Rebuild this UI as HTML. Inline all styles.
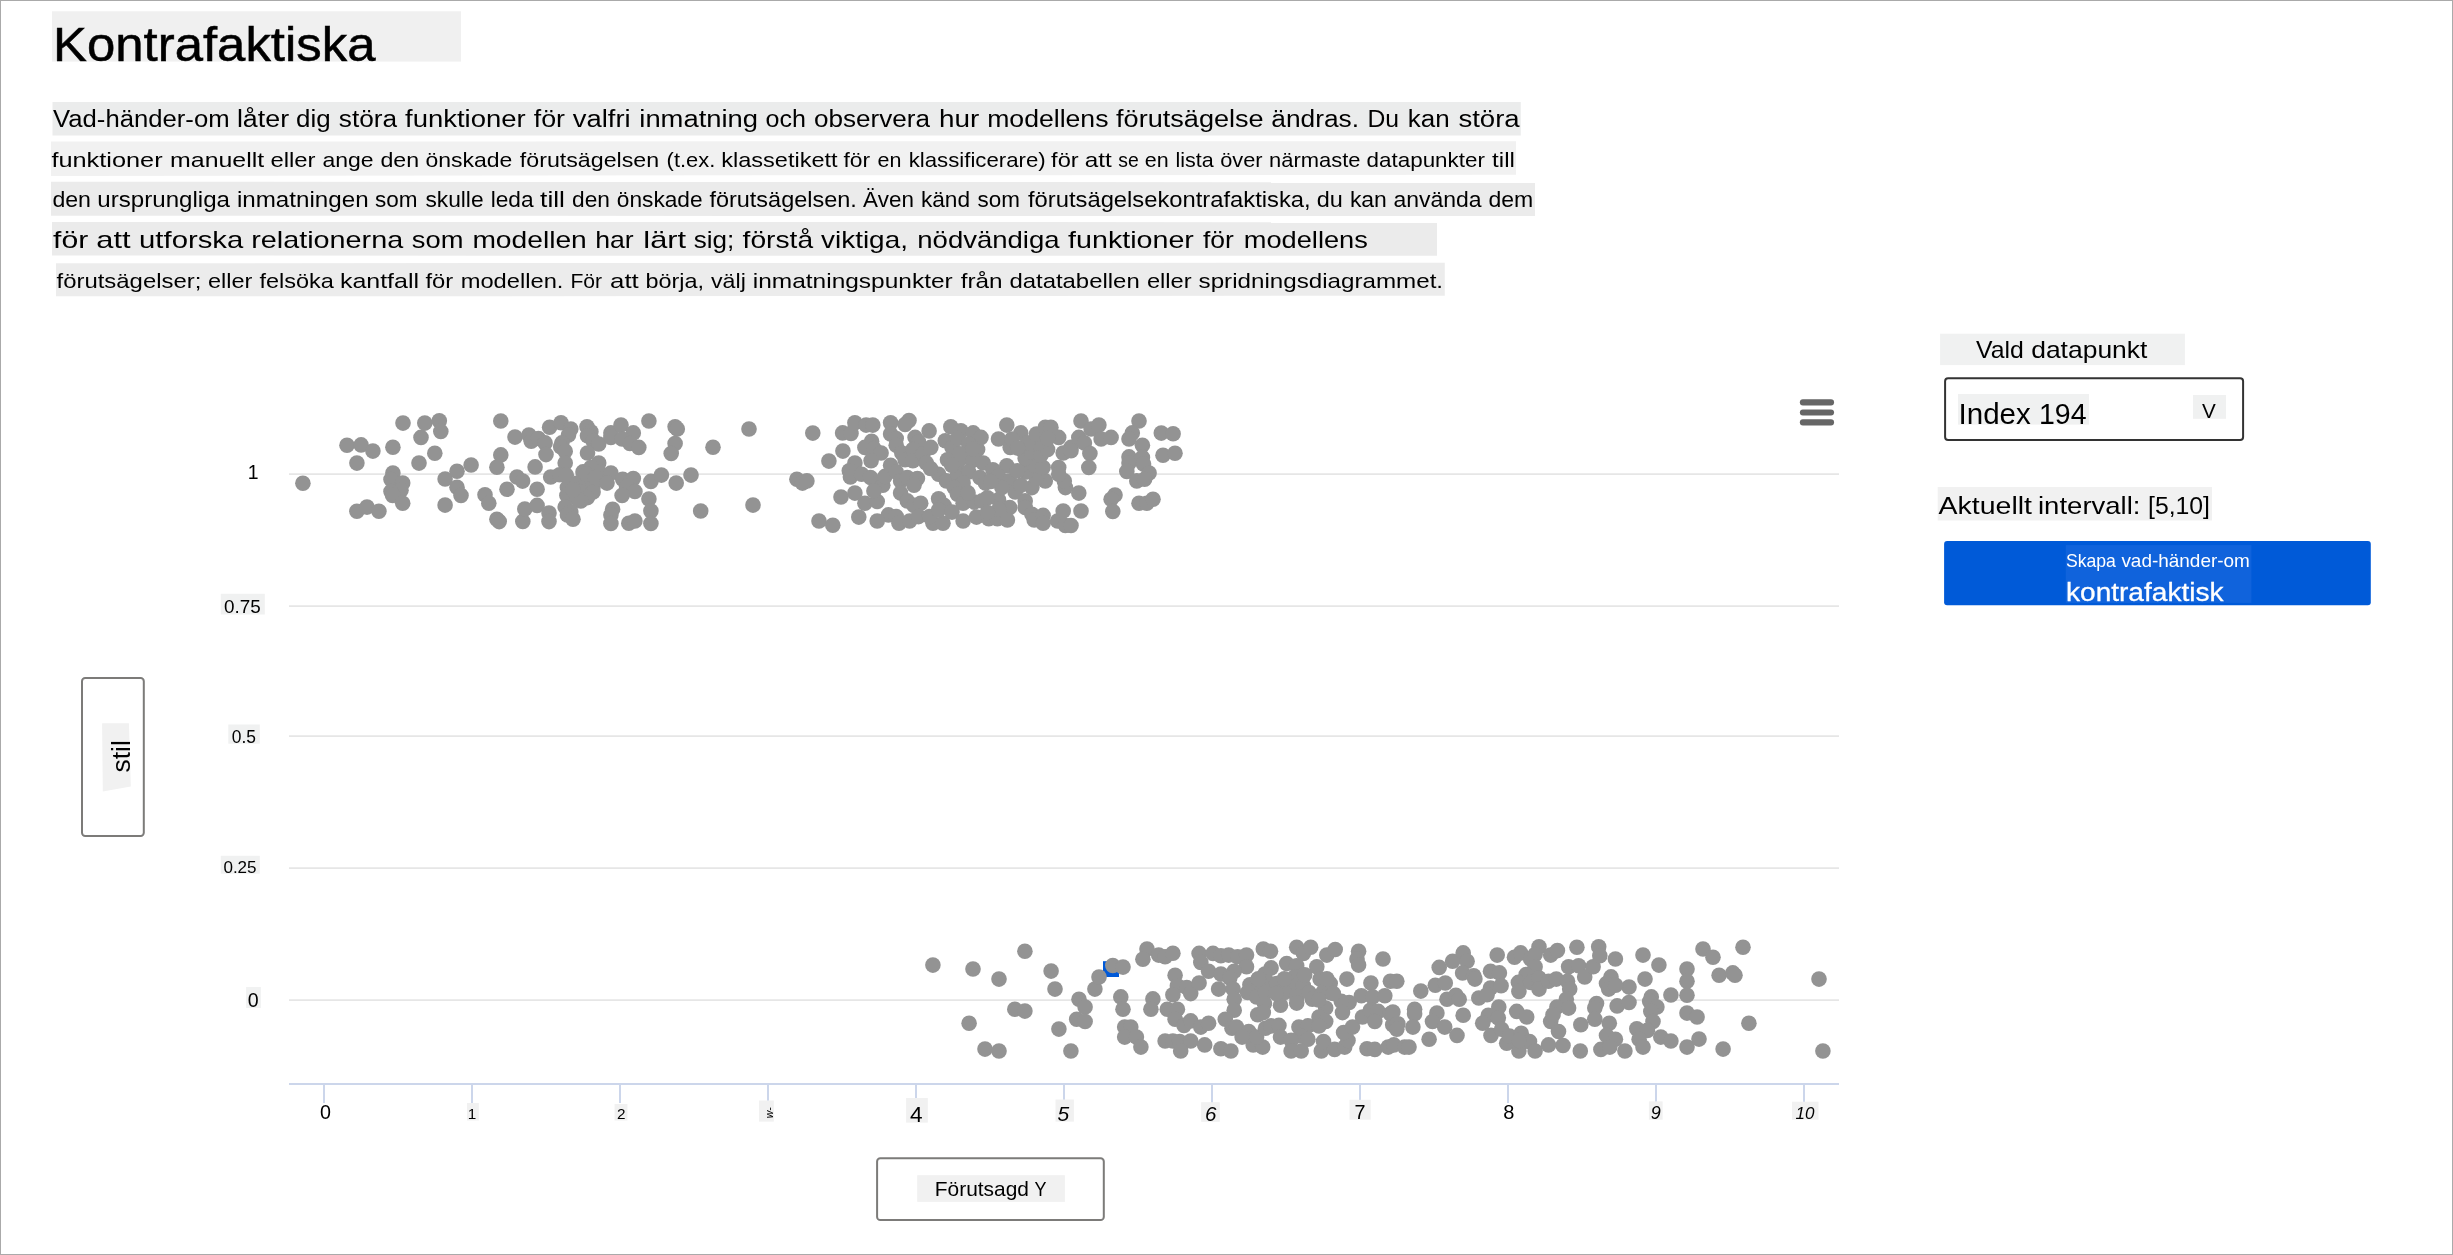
<!DOCTYPE html>
<html><head><meta charset="utf-8"><title>Kontrafaktiska</title>
<style>
html,body{margin:0;padding:0;background:#fff;}
body{width:2453px;height:1255px;overflow:hidden;position:relative;font-family:"Liberation Sans",sans-serif;}
svg{position:absolute;left:0;top:0;display:block;will-change:transform;}
svg text{font-family:"Liberation Sans",sans-serif;}
#frame{position:absolute;left:0;top:0;width:2451px;height:1253px;border:1px solid #aaa;pointer-events:none;}
</style></head><body>
<svg width="2453" height="1255" viewBox="0 0 2453 1255">
<rect x="52.00" y="11.30" width="409.00" height="50.30" fill="#f0f0f0" />
<text x="53.00" y="60.60" font-size="47.20" textLength="322.5" lengthAdjust="spacingAndGlyphs" fill="#000" stroke="#000" stroke-width="0.5">Kontrafaktiska</text>
<polygon points="52.5,102.1 1520.8,102.0 1520.8,135.6 52.5,135.4" fill="#ebecec"/>
<text x="53.10" y="127.40" font-size="23.00" textLength="176.5" lengthAdjust="spacingAndGlyphs" fill="#000" >Vad-händer-om</text>
<text x="236.90" y="127.40" font-size="23.00" textLength="52.2" lengthAdjust="spacingAndGlyphs" fill="#000" >låter</text>
<text x="296.00" y="127.40" font-size="23.00" textLength="34.6" lengthAdjust="spacingAndGlyphs" fill="#000" >dig</text>
<text x="338.80" y="127.40" font-size="23.00" textLength="58.3" lengthAdjust="spacingAndGlyphs" fill="#000" >störa</text>
<text x="405.10" y="127.40" font-size="23.00" textLength="120.5" lengthAdjust="spacingAndGlyphs" fill="#000" >funktioner</text>
<text x="533.70" y="127.40" font-size="23.00" textLength="31.3" lengthAdjust="spacingAndGlyphs" fill="#000" >för</text>
<text x="572.80" y="127.40" font-size="23.00" textLength="57.8" lengthAdjust="spacingAndGlyphs" fill="#000" >valfri</text>
<text x="639.30" y="127.40" font-size="23.00" textLength="118.8" lengthAdjust="spacingAndGlyphs" fill="#000" >inmatning</text>
<text x="765.60" y="127.40" font-size="23.00" textLength="40.4" lengthAdjust="spacingAndGlyphs" fill="#000" >och</text>
<text x="813.90" y="127.40" font-size="23.00" textLength="116.0" lengthAdjust="spacingAndGlyphs" fill="#000" >observera</text>
<text x="938.90" y="127.40" font-size="23.00" textLength="40.3" lengthAdjust="spacingAndGlyphs" fill="#000" >hur</text>
<text x="987.20" y="127.40" font-size="23.00" textLength="121.3" lengthAdjust="spacingAndGlyphs" fill="#000" >modellens</text>
<text x="1116.10" y="127.40" font-size="23.00" textLength="147.6" lengthAdjust="spacingAndGlyphs" fill="#000" >förutsägelse</text>
<text x="1271.30" y="127.40" font-size="23.00" textLength="87.7" lengthAdjust="spacingAndGlyphs" fill="#000" >ändras.</text>
<text x="1367.50" y="127.40" font-size="23.00" textLength="31.6" lengthAdjust="spacingAndGlyphs" fill="#000" >Du</text>
<text x="1407.80" y="127.40" font-size="23.00" textLength="41.9" lengthAdjust="spacingAndGlyphs" fill="#000" >kan</text>
<text x="1458.40" y="127.40" font-size="23.00" textLength="61.3" lengthAdjust="spacingAndGlyphs" fill="#000" >störa</text>
<polygon points="51,141.5 1516,141.2 1516,174.7 51,176.0" fill="#f1f1f1"/>
<text x="51.40" y="166.50" font-size="20.60" textLength="111.2" lengthAdjust="spacingAndGlyphs" fill="#000" >funktioner</text>
<text x="170.10" y="166.50" font-size="20.60" textLength="94.1" lengthAdjust="spacingAndGlyphs" fill="#000" >manuellt</text>
<text x="270.40" y="166.50" font-size="20.60" textLength="45.2" lengthAdjust="spacingAndGlyphs" fill="#000" >eller</text>
<text x="322.40" y="166.50" font-size="20.60" textLength="51.2" lengthAdjust="spacingAndGlyphs" fill="#000" >ange</text>
<text x="380.40" y="166.50" font-size="20.60" textLength="38.7" lengthAdjust="spacingAndGlyphs" fill="#000" >den</text>
<text x="425.40" y="166.50" font-size="20.60" textLength="86.9" lengthAdjust="spacingAndGlyphs" fill="#000" >önskade</text>
<text x="519.80" y="166.50" font-size="20.60" textLength="139.4" lengthAdjust="spacingAndGlyphs" fill="#000" >förutsägelsen</text>
<text x="666.60" y="166.50" font-size="20.60" textLength="48.7" lengthAdjust="spacingAndGlyphs" fill="#000" >(t.ex.</text>
<text x="721.20" y="166.50" font-size="20.60" textLength="116.4" lengthAdjust="spacingAndGlyphs" fill="#000" >klassetikett</text>
<text x="843.50" y="166.50" font-size="20.60" textLength="26.7" lengthAdjust="spacingAndGlyphs" fill="#000" >för</text>
<text x="877.50" y="166.50" font-size="20.60" textLength="23.9" lengthAdjust="spacingAndGlyphs" fill="#000" >en</text>
<text x="908.70" y="166.50" font-size="20.60" textLength="137.0" lengthAdjust="spacingAndGlyphs" fill="#000" >klassificerare)</text>
<text x="1051.10" y="166.50" font-size="20.60" textLength="27.6" lengthAdjust="spacingAndGlyphs" fill="#000" >för</text>
<text x="1084.80" y="166.50" font-size="20.60" textLength="27.0" lengthAdjust="spacingAndGlyphs" fill="#000" >att</text>
<text x="1118.30" y="166.50" font-size="20.60" textLength="20.5" lengthAdjust="spacingAndGlyphs" fill="#000" >se</text>
<text x="1144.70" y="166.50" font-size="20.60" textLength="23.9" lengthAdjust="spacingAndGlyphs" fill="#000" >en</text>
<text x="1175.50" y="166.50" font-size="20.60" textLength="38.2" lengthAdjust="spacingAndGlyphs" fill="#000" >lista</text>
<text x="1220.20" y="166.50" font-size="20.60" textLength="42.4" lengthAdjust="spacingAndGlyphs" fill="#000" >över</text>
<text x="1269.10" y="166.50" font-size="20.60" textLength="91.4" lengthAdjust="spacingAndGlyphs" fill="#000" >närmaste</text>
<text x="1366.60" y="166.50" font-size="20.60" textLength="118.3" lengthAdjust="spacingAndGlyphs" fill="#000" >datapunkter</text>
<text x="1492.10" y="166.50" font-size="20.60" textLength="22.8" lengthAdjust="spacingAndGlyphs" fill="#000" >till</text>
<polygon points="51,181.7 1535,182.3 1535,216.1 51,215.7" fill="#ebebeb"/>
<text x="52.40" y="206.70" font-size="21.60" textLength="38.6" lengthAdjust="spacingAndGlyphs" fill="#000" >den</text>
<text x="97.30" y="206.70" font-size="21.60" textLength="132.7" lengthAdjust="spacingAndGlyphs" fill="#000" >ursprungliga</text>
<text x="236.90" y="206.70" font-size="21.60" textLength="131.7" lengthAdjust="spacingAndGlyphs" fill="#000" >inmatningen</text>
<text x="375.10" y="206.70" font-size="21.60" textLength="42.5" lengthAdjust="spacingAndGlyphs" fill="#000" >som</text>
<text x="425.40" y="206.70" font-size="21.60" textLength="58.2" lengthAdjust="spacingAndGlyphs" fill="#000" >skulle</text>
<text x="490.70" y="206.70" font-size="21.60" textLength="42.9" lengthAdjust="spacingAndGlyphs" fill="#000" >leda</text>
<text x="540.10" y="206.70" font-size="21.60" textLength="24.9" lengthAdjust="spacingAndGlyphs" fill="#000" >till</text>
<text x="572.00" y="206.70" font-size="21.60" textLength="37.9" lengthAdjust="spacingAndGlyphs" fill="#000" >den</text>
<text x="616.80" y="206.70" font-size="21.60" textLength="85.8" lengthAdjust="spacingAndGlyphs" fill="#000" >önskade</text>
<text x="709.40" y="206.70" font-size="21.60" textLength="147.5" lengthAdjust="spacingAndGlyphs" fill="#000" >förutsägelsen.</text>
<text x="862.90" y="206.70" font-size="21.60" textLength="51.1" lengthAdjust="spacingAndGlyphs" fill="#000" >Även</text>
<text x="920.90" y="206.70" font-size="21.60" textLength="49.2" lengthAdjust="spacingAndGlyphs" fill="#000" >känd</text>
<text x="977.60" y="206.70" font-size="21.60" textLength="42.4" lengthAdjust="spacingAndGlyphs" fill="#000" >som</text>
<text x="1028.00" y="206.70" font-size="21.60" textLength="282.6" lengthAdjust="spacingAndGlyphs" fill="#000" >förutsägelsekontrafaktiska,</text>
<text x="1316.80" y="206.70" font-size="21.60" textLength="26.1" lengthAdjust="spacingAndGlyphs" fill="#000" >du</text>
<text x="1349.90" y="206.70" font-size="21.60" textLength="37.0" lengthAdjust="spacingAndGlyphs" fill="#000" >kan</text>
<text x="1393.40" y="206.70" font-size="21.60" textLength="88.2" lengthAdjust="spacingAndGlyphs" fill="#000" >använda</text>
<text x="1488.50" y="206.70" font-size="21.60" textLength="44.8" lengthAdjust="spacingAndGlyphs" fill="#000" >dem</text>
<polygon points="52,221.9 1437,222.2 1437,255.7 52,255.6" fill="#ebebeb"/>
<text x="53.10" y="247.80" font-size="24.00" textLength="35.2" lengthAdjust="spacingAndGlyphs" fill="#000" >för</text>
<text x="96.30" y="247.80" font-size="24.00" textLength="34.3" lengthAdjust="spacingAndGlyphs" fill="#000" >att</text>
<text x="139.10" y="247.80" font-size="24.00" textLength="104.1" lengthAdjust="spacingAndGlyphs" fill="#000" >utforska</text>
<text x="251.20" y="247.80" font-size="24.00" textLength="152.0" lengthAdjust="spacingAndGlyphs" fill="#000" >relationerna</text>
<text x="411.80" y="247.80" font-size="24.00" textLength="51.6" lengthAdjust="spacingAndGlyphs" fill="#000" >som</text>
<text x="472.40" y="247.80" font-size="24.00" textLength="114.4" lengthAdjust="spacingAndGlyphs" fill="#000" >modellen</text>
<text x="595.20" y="247.80" font-size="24.00" textLength="38.5" lengthAdjust="spacingAndGlyphs" fill="#000" >har</text>
<text x="643.30" y="247.80" font-size="24.00" textLength="42.8" lengthAdjust="spacingAndGlyphs" fill="#000" >lärt</text>
<text x="693.70" y="247.80" font-size="24.00" textLength="40.5" lengthAdjust="spacingAndGlyphs" fill="#000" >sig;</text>
<text x="742.60" y="247.80" font-size="24.00" textLength="70.5" lengthAdjust="spacingAndGlyphs" fill="#000" >förstå</text>
<text x="821.10" y="247.80" font-size="24.00" textLength="86.8" lengthAdjust="spacingAndGlyphs" fill="#000" >viktiga,</text>
<text x="917.30" y="247.80" font-size="24.00" textLength="142.3" lengthAdjust="spacingAndGlyphs" fill="#000" >nödvändiga</text>
<text x="1068.10" y="247.80" font-size="24.00" textLength="125.8" lengthAdjust="spacingAndGlyphs" fill="#000" >funktioner</text>
<text x="1203.00" y="247.80" font-size="24.00" textLength="30.9" lengthAdjust="spacingAndGlyphs" fill="#000" >för</text>
<text x="1243.80" y="247.80" font-size="24.00" textLength="124.0" lengthAdjust="spacingAndGlyphs" fill="#000" >modellens</text>
<polygon points="56,263.2 1444.8,262.8 1444.8,295.8 56,296.3" fill="#ececec"/>
<text x="56.50" y="287.50" font-size="20.60" textLength="144.9" lengthAdjust="spacingAndGlyphs" fill="#000" >förutsägelser;</text>
<text x="208.00" y="287.50" font-size="20.60" textLength="44.4" lengthAdjust="spacingAndGlyphs" fill="#000" >eller</text>
<text x="259.40" y="287.50" font-size="20.60" textLength="74.5" lengthAdjust="spacingAndGlyphs" fill="#000" >felsöka</text>
<text x="339.90" y="287.50" font-size="20.60" textLength="79.2" lengthAdjust="spacingAndGlyphs" fill="#000" >kantfall</text>
<text x="425.40" y="287.50" font-size="20.60" textLength="27.8" lengthAdjust="spacingAndGlyphs" fill="#000" >för</text>
<text x="460.70" y="287.50" font-size="20.60" textLength="102.7" lengthAdjust="spacingAndGlyphs" fill="#000" >modellen.</text>
<text x="570.40" y="287.50" font-size="20.60" textLength="31.7" lengthAdjust="spacingAndGlyphs" fill="#000" >För</text>
<text x="610.10" y="287.50" font-size="20.60" textLength="28.7" lengthAdjust="spacingAndGlyphs" fill="#000" >att</text>
<text x="645.40" y="287.50" font-size="20.60" textLength="58.6" lengthAdjust="spacingAndGlyphs" fill="#000" >börja,</text>
<text x="711.00" y="287.50" font-size="20.60" textLength="34.8" lengthAdjust="spacingAndGlyphs" fill="#000" >välj</text>
<text x="752.80" y="287.50" font-size="20.60" textLength="199.9" lengthAdjust="spacingAndGlyphs" fill="#000" >inmatningspunkter</text>
<text x="960.70" y="287.50" font-size="20.60" textLength="41.9" lengthAdjust="spacingAndGlyphs" fill="#000" >från</text>
<text x="1009.40" y="287.50" font-size="20.60" textLength="130.3" lengthAdjust="spacingAndGlyphs" fill="#000" >datatabellen</text>
<text x="1146.90" y="287.50" font-size="20.60" textLength="44.8" lengthAdjust="spacingAndGlyphs" fill="#000" >eller</text>
<text x="1198.60" y="287.50" font-size="20.60" textLength="244.5" lengthAdjust="spacingAndGlyphs" fill="#000" >spridningsdiagrammet.</text>
<line x1="289" y1="474.2" x2="1839" y2="474.2" stroke="#e6e6e6" stroke-width="1.8"/>
<line x1="289" y1="606.2" x2="1839" y2="606.2" stroke="#e6e6e6" stroke-width="1.8"/>
<line x1="289" y1="736.2" x2="1839" y2="736.2" stroke="#e6e6e6" stroke-width="1.8"/>
<line x1="289" y1="868.2" x2="1839" y2="868.2" stroke="#e6e6e6" stroke-width="1.8"/>
<line x1="289" y1="1000.2" x2="1839" y2="1000.2" stroke="#e6e6e6" stroke-width="1.8"/>
<line x1="289" y1="1084.1" x2="1839" y2="1084.1" stroke="#ccd6eb" stroke-width="2"/>
<line x1="324" y1="1084.1" x2="324" y2="1103.1" stroke="#ccd6eb" stroke-width="2"/>
<line x1="472" y1="1084.1" x2="472" y2="1103.1" stroke="#ccd6eb" stroke-width="2"/>
<line x1="620" y1="1084.1" x2="620" y2="1103.1" stroke="#ccd6eb" stroke-width="2"/>
<line x1="768" y1="1084.1" x2="768" y2="1103.1" stroke="#ccd6eb" stroke-width="2"/>
<line x1="916" y1="1084.1" x2="916" y2="1103.1" stroke="#ccd6eb" stroke-width="2"/>
<line x1="1064" y1="1084.1" x2="1064" y2="1103.1" stroke="#ccd6eb" stroke-width="2"/>
<line x1="1212" y1="1084.1" x2="1212" y2="1103.1" stroke="#ccd6eb" stroke-width="2"/>
<line x1="1360" y1="1084.1" x2="1360" y2="1103.1" stroke="#ccd6eb" stroke-width="2"/>
<line x1="1508" y1="1084.1" x2="1508" y2="1103.1" stroke="#ccd6eb" stroke-width="2"/>
<line x1="1656" y1="1084.1" x2="1656" y2="1103.1" stroke="#ccd6eb" stroke-width="2"/>
<line x1="1804" y1="1084.1" x2="1804" y2="1103.1" stroke="#ccd6eb" stroke-width="2"/>
<rect x="1103.00" y="961.20" width="16.00" height="15.80" fill="#0059d8" />
<g fill="#939393">
<circle cx="302.9" cy="483.3" r="7.8"/>
<circle cx="347.0" cy="445.2" r="7.8"/>
<circle cx="361.1" cy="444.9" r="7.8"/>
<circle cx="372.9" cy="451.1" r="7.8"/>
<circle cx="356.9" cy="463.1" r="7.8"/>
<circle cx="392.9" cy="447.2" r="7.8"/>
<circle cx="403.0" cy="423.1" r="7.8"/>
<circle cx="424.8" cy="423.1" r="7.8"/>
<circle cx="439.3" cy="420.8" r="7.8"/>
<circle cx="440.8" cy="431.4" r="7.8"/>
<circle cx="421.0" cy="437.4" r="7.8"/>
<circle cx="434.8" cy="453.2" r="7.8"/>
<circle cx="419.0" cy="463.1" r="7.8"/>
<circle cx="392.9" cy="473.0" r="7.8"/>
<circle cx="391.0" cy="479.5" r="7.8"/>
<circle cx="402.7" cy="483.1" r="7.8"/>
<circle cx="401.0" cy="490.3" r="7.8"/>
<circle cx="391.0" cy="491.5" r="7.8"/>
<circle cx="392.6" cy="495.4" r="7.8"/>
<circle cx="402.7" cy="503.2" r="7.8"/>
<circle cx="356.9" cy="511.2" r="7.8"/>
<circle cx="367.0" cy="507.1" r="7.8"/>
<circle cx="378.9" cy="511.2" r="7.8"/>
<circle cx="445.1" cy="479.0" r="7.8"/>
<circle cx="457.0" cy="471.2" r="7.8"/>
<circle cx="471.1" cy="465.0" r="7.8"/>
<circle cx="457.0" cy="487.3" r="7.8"/>
<circle cx="461.0" cy="495.4" r="7.8"/>
<circle cx="445.1" cy="505.1" r="7.8"/>
<circle cx="500.8" cy="421.0" r="7.8"/>
<circle cx="515.0" cy="437.1" r="7.8"/>
<circle cx="500.8" cy="454.9" r="7.8"/>
<circle cx="496.9" cy="467.2" r="7.8"/>
<circle cx="517.0" cy="477.0" r="7.8"/>
<circle cx="522.6" cy="481.1" r="7.8"/>
<circle cx="507.0" cy="489.2" r="7.8"/>
<circle cx="485.0" cy="494.8" r="7.8"/>
<circle cx="488.8" cy="503.2" r="7.8"/>
<circle cx="496.9" cy="519.3" r="7.8"/>
<circle cx="499.2" cy="521.6" r="7.8"/>
<circle cx="522.8" cy="521.4" r="7.8"/>
<circle cx="524.8" cy="509.0" r="7.8"/>
<circle cx="528.9" cy="435.1" r="7.8"/>
<circle cx="531.2" cy="441.3" r="7.8"/>
<circle cx="538.4" cy="438.5" r="7.8"/>
<circle cx="545.1" cy="442.9" r="7.8"/>
<circle cx="546.0" cy="454.6" r="7.8"/>
<circle cx="535.1" cy="466.9" r="7.8"/>
<circle cx="549.6" cy="427.3" r="7.8"/>
<circle cx="561.0" cy="422.8" r="7.8"/>
<circle cx="570.8" cy="429.0" r="7.8"/>
<circle cx="568.5" cy="435.1" r="7.8"/>
<circle cx="561.9" cy="442.9" r="7.8"/>
<circle cx="560.7" cy="446.8" r="7.8"/>
<circle cx="565.2" cy="451.3" r="7.8"/>
<circle cx="565.2" cy="463.0" r="7.8"/>
<circle cx="587.0" cy="426.8" r="7.8"/>
<circle cx="590.9" cy="431.8" r="7.8"/>
<circle cx="587.5" cy="435.7" r="7.8"/>
<circle cx="593.1" cy="440.7" r="7.8"/>
<circle cx="598.7" cy="444.0" r="7.8"/>
<circle cx="587.5" cy="453.0" r="7.8"/>
<circle cx="598.7" cy="463.0" r="7.8"/>
<circle cx="610.9" cy="432.9" r="7.8"/>
<circle cx="610.9" cy="437.4" r="7.8"/>
<circle cx="621.0" cy="425.1" r="7.8"/>
<circle cx="633.3" cy="432.9" r="7.8"/>
<circle cx="622.1" cy="439.0" r="7.8"/>
<circle cx="629.9" cy="443.5" r="7.8"/>
<circle cx="638.8" cy="447.4" r="7.8"/>
<circle cx="648.9" cy="421.0" r="7.8"/>
<circle cx="675.1" cy="426.8" r="7.8"/>
<circle cx="677.3" cy="429.0" r="7.8"/>
<circle cx="675.1" cy="443.5" r="7.8"/>
<circle cx="671.2" cy="453.5" r="7.8"/>
<circle cx="713.0" cy="447.2" r="7.8"/>
<circle cx="749.0" cy="429.0" r="7.8"/>
<circle cx="537.1" cy="489.2" r="7.8"/>
<circle cx="550.7" cy="477.0" r="7.8"/>
<circle cx="559.6" cy="474.7" r="7.8"/>
<circle cx="566.3" cy="475.3" r="7.8"/>
<circle cx="537.1" cy="505.4" r="7.8"/>
<circle cx="549.0" cy="513.0" r="7.8"/>
<circle cx="549.0" cy="521.6" r="7.8"/>
<circle cx="583.0" cy="471.9" r="7.8"/>
<circle cx="590.9" cy="467.5" r="7.8"/>
<circle cx="598.7" cy="471.9" r="7.8"/>
<circle cx="567.4" cy="487.6" r="7.8"/>
<circle cx="566.9" cy="495.4" r="7.8"/>
<circle cx="577.5" cy="483.1" r="7.8"/>
<circle cx="586.4" cy="480.9" r="7.8"/>
<circle cx="593.1" cy="486.4" r="7.8"/>
<circle cx="581.9" cy="492.0" r="7.8"/>
<circle cx="593.1" cy="492.0" r="7.8"/>
<circle cx="587.5" cy="497.6" r="7.8"/>
<circle cx="580.8" cy="500.9" r="7.8"/>
<circle cx="577.5" cy="498.7" r="7.8"/>
<circle cx="573.0" cy="489.8" r="7.8"/>
<circle cx="586.4" cy="474.2" r="7.8"/>
<circle cx="595.3" cy="477.5" r="7.8"/>
<circle cx="565.2" cy="507.1" r="7.8"/>
<circle cx="570.8" cy="512.1" r="7.8"/>
<circle cx="567.4" cy="514.9" r="7.8"/>
<circle cx="573.0" cy="519.3" r="7.8"/>
<circle cx="610.9" cy="473.0" r="7.8"/>
<circle cx="607.0" cy="483.1" r="7.8"/>
<circle cx="622.7" cy="479.2" r="7.8"/>
<circle cx="633.3" cy="478.6" r="7.8"/>
<circle cx="626.6" cy="486.4" r="7.8"/>
<circle cx="634.9" cy="491.5" r="7.8"/>
<circle cx="622.1" cy="495.4" r="7.8"/>
<circle cx="612.6" cy="509.3" r="7.8"/>
<circle cx="610.9" cy="514.9" r="7.8"/>
<circle cx="610.9" cy="523.5" r="7.8"/>
<circle cx="628.8" cy="523.3" r="7.8"/>
<circle cx="634.9" cy="521.0" r="7.8"/>
<circle cx="648.9" cy="499.0" r="7.8"/>
<circle cx="650.9" cy="511.0" r="7.8"/>
<circle cx="650.9" cy="523.5" r="7.8"/>
<circle cx="650.9" cy="481.4" r="7.8"/>
<circle cx="661.4" cy="475.1" r="7.8"/>
<circle cx="676.2" cy="483.1" r="7.8"/>
<circle cx="691.0" cy="475.1" r="7.8"/>
<circle cx="700.7" cy="511.0" r="7.8"/>
<circle cx="753.0" cy="505.1" r="7.8"/>
<circle cx="812.8" cy="433.1" r="7.8"/>
<circle cx="828.9" cy="461.1" r="7.8"/>
<circle cx="842.9" cy="451.1" r="7.8"/>
<circle cx="796.9" cy="479.2" r="7.8"/>
<circle cx="802.5" cy="483.1" r="7.8"/>
<circle cx="806.9" cy="480.9" r="7.8"/>
<circle cx="841.0" cy="497.0" r="7.8"/>
<circle cx="819.0" cy="521.0" r="7.8"/>
<circle cx="832.8" cy="525.3" r="7.8"/>
<circle cx="858.8" cy="517.1" r="7.8"/>
<circle cx="854.9" cy="493.1" r="7.8"/>
<circle cx="864.9" cy="503.2" r="7.8"/>
<circle cx="877.2" cy="501.5" r="7.8"/>
<circle cx="842.6" cy="432.9" r="7.8"/>
<circle cx="851.0" cy="433.4" r="7.8"/>
<circle cx="854.9" cy="422.8" r="7.8"/>
<circle cx="866.1" cy="425.1" r="7.8"/>
<circle cx="872.8" cy="425.1" r="7.8"/>
<circle cx="890.6" cy="422.8" r="7.8"/>
<circle cx="909.0" cy="420.6" r="7.8"/>
<circle cx="905.1" cy="424.5" r="7.8"/>
<circle cx="890.6" cy="434.0" r="7.8"/>
<circle cx="896.2" cy="438.5" r="7.8"/>
<circle cx="929.1" cy="430.9" r="7.8"/>
<circle cx="915.1" cy="437.4" r="7.8"/>
<circle cx="918.5" cy="441.8" r="7.8"/>
<circle cx="871.6" cy="441.3" r="7.8"/>
<circle cx="864.9" cy="447.4" r="7.8"/>
<circle cx="873.9" cy="448.5" r="7.8"/>
<circle cx="881.1" cy="453.0" r="7.8"/>
<circle cx="871.1" cy="460.8" r="7.8"/>
<circle cx="854.9" cy="463.0" r="7.8"/>
<circle cx="849.3" cy="470.8" r="7.8"/>
<circle cx="850.4" cy="477.0" r="7.8"/>
<circle cx="861.6" cy="474.2" r="7.8"/>
<circle cx="870.5" cy="477.5" r="7.8"/>
<circle cx="877.2" cy="483.1" r="7.8"/>
<circle cx="882.8" cy="485.3" r="7.8"/>
<circle cx="885.0" cy="476.4" r="7.8"/>
<circle cx="890.6" cy="465.2" r="7.8"/>
<circle cx="896.2" cy="445.2" r="7.8"/>
<circle cx="901.8" cy="453.0" r="7.8"/>
<circle cx="905.1" cy="459.7" r="7.8"/>
<circle cx="912.9" cy="449.6" r="7.8"/>
<circle cx="912.9" cy="460.8" r="7.8"/>
<circle cx="923.0" cy="454.1" r="7.8"/>
<circle cx="930.8" cy="447.4" r="7.8"/>
<circle cx="926.3" cy="463.0" r="7.8"/>
<circle cx="896.2" cy="471.9" r="7.8"/>
<circle cx="900.6" cy="480.9" r="7.8"/>
<circle cx="907.3" cy="477.5" r="7.8"/>
<circle cx="917.4" cy="478.6" r="7.8"/>
<circle cx="914.0" cy="485.3" r="7.8"/>
<circle cx="873.9" cy="490.9" r="7.8"/>
<circle cx="900.6" cy="493.1" r="7.8"/>
<circle cx="907.3" cy="500.9" r="7.8"/>
<circle cx="914.0" cy="505.4" r="7.8"/>
<circle cx="920.7" cy="503.2" r="7.8"/>
<circle cx="888.4" cy="514.9" r="7.8"/>
<circle cx="877.2" cy="521.0" r="7.8"/>
<circle cx="896.2" cy="516.6" r="7.8"/>
<circle cx="899.0" cy="523.3" r="7.8"/>
<circle cx="909.6" cy="521.0" r="7.8"/>
<circle cx="918.5" cy="516.6" r="7.8"/>
<circle cx="933.0" cy="523.3" r="7.8"/>
<circle cx="943.0" cy="523.3" r="7.8"/>
<circle cx="929.6" cy="516.6" r="7.8"/>
<circle cx="938.6" cy="498.7" r="7.8"/>
<circle cx="944.1" cy="505.4" r="7.8"/>
<circle cx="938.6" cy="509.9" r="7.8"/>
<circle cx="950.8" cy="426.8" r="7.8"/>
<circle cx="960.9" cy="430.7" r="7.8"/>
<circle cx="945.3" cy="440.7" r="7.8"/>
<circle cx="952.0" cy="447.4" r="7.8"/>
<circle cx="947.5" cy="459.7" r="7.8"/>
<circle cx="957.5" cy="438.5" r="7.8"/>
<circle cx="973.2" cy="432.9" r="7.8"/>
<circle cx="981.0" cy="437.4" r="7.8"/>
<circle cx="968.7" cy="444.0" r="7.8"/>
<circle cx="977.6" cy="449.6" r="7.8"/>
<circle cx="963.1" cy="455.2" r="7.8"/>
<circle cx="972.0" cy="460.8" r="7.8"/>
<circle cx="957.5" cy="463.0" r="7.8"/>
<circle cx="938.6" cy="474.2" r="7.8"/>
<circle cx="946.4" cy="480.9" r="7.8"/>
<circle cx="957.5" cy="474.2" r="7.8"/>
<circle cx="968.7" cy="471.9" r="7.8"/>
<circle cx="963.1" cy="483.1" r="7.8"/>
<circle cx="954.2" cy="487.6" r="7.8"/>
<circle cx="979.8" cy="477.5" r="7.8"/>
<circle cx="985.4" cy="483.1" r="7.8"/>
<circle cx="983.2" cy="463.0" r="7.8"/>
<circle cx="957.5" cy="494.2" r="7.8"/>
<circle cx="963.1" cy="503.2" r="7.8"/>
<circle cx="974.3" cy="502.1" r="7.8"/>
<circle cx="982.1" cy="500.9" r="7.8"/>
<circle cx="952.0" cy="512.1" r="7.8"/>
<circle cx="963.1" cy="521.0" r="7.8"/>
<circle cx="976.5" cy="517.1" r="7.8"/>
<circle cx="988.8" cy="518.8" r="7.8"/>
<circle cx="998.5" cy="439.0" r="7.8"/>
<circle cx="1006.8" cy="425.1" r="7.8"/>
<circle cx="1010.2" cy="447.4" r="7.8"/>
<circle cx="1020.8" cy="432.9" r="7.8"/>
<circle cx="1006.8" cy="465.8" r="7.8"/>
<circle cx="992.9" cy="469.7" r="7.8"/>
<circle cx="998.5" cy="476.4" r="7.8"/>
<circle cx="1009.6" cy="480.9" r="7.8"/>
<circle cx="1015.2" cy="492.0" r="7.8"/>
<circle cx="998.5" cy="499.8" r="7.8"/>
<circle cx="1009.6" cy="507.6" r="7.8"/>
<circle cx="997.4" cy="518.8" r="7.8"/>
<circle cx="1007.4" cy="519.9" r="7.8"/>
<circle cx="1025.2" cy="500.9" r="7.8"/>
<circle cx="1025.2" cy="507.6" r="7.8"/>
<circle cx="1031.9" cy="514.3" r="7.8"/>
<circle cx="1034.2" cy="519.9" r="7.8"/>
<circle cx="1043.1" cy="515.4" r="7.8"/>
<circle cx="1043.1" cy="523.3" r="7.8"/>
<circle cx="1057.6" cy="521.0" r="7.8"/>
<circle cx="1063.2" cy="511.0" r="7.8"/>
<circle cx="1065.4" cy="525.5" r="7.8"/>
<circle cx="1071.0" cy="525.5" r="7.8"/>
<circle cx="1081.0" cy="511.0" r="7.8"/>
<circle cx="1078.8" cy="493.1" r="7.8"/>
<circle cx="1065.4" cy="487.6" r="7.8"/>
<circle cx="1064.3" cy="480.9" r="7.8"/>
<circle cx="1058.7" cy="467.5" r="7.8"/>
<circle cx="1058.7" cy="474.2" r="7.8"/>
<circle cx="1045.3" cy="480.9" r="7.8"/>
<circle cx="1031.9" cy="487.6" r="7.8"/>
<circle cx="1036.4" cy="477.5" r="7.8"/>
<circle cx="1026.4" cy="471.9" r="7.8"/>
<circle cx="1034.2" cy="465.2" r="7.8"/>
<circle cx="1043.1" cy="467.5" r="7.8"/>
<circle cx="1025.2" cy="458.5" r="7.8"/>
<circle cx="1031.9" cy="451.9" r="7.8"/>
<circle cx="1040.9" cy="455.2" r="7.8"/>
<circle cx="1047.6" cy="449.6" r="7.8"/>
<circle cx="1037.5" cy="442.9" r="7.8"/>
<circle cx="1027.5" cy="442.9" r="7.8"/>
<circle cx="1036.4" cy="434.0" r="7.8"/>
<circle cx="1045.3" cy="427.3" r="7.8"/>
<circle cx="1050.9" cy="427.3" r="7.8"/>
<circle cx="1058.7" cy="437.4" r="7.8"/>
<circle cx="1047.6" cy="438.5" r="7.8"/>
<circle cx="1063.2" cy="453.0" r="7.8"/>
<circle cx="1071.0" cy="447.4" r="7.8"/>
<circle cx="1071.0" cy="450.7" r="7.8"/>
<circle cx="1078.8" cy="437.4" r="7.8"/>
<circle cx="1084.4" cy="442.9" r="7.8"/>
<circle cx="1081.0" cy="421.0" r="7.8"/>
<circle cx="1091.1" cy="429.0" r="7.8"/>
<circle cx="1098.9" cy="425.1" r="7.8"/>
<circle cx="1101.1" cy="439.0" r="7.8"/>
<circle cx="1111.1" cy="437.4" r="7.8"/>
<circle cx="1089.9" cy="453.5" r="7.8"/>
<circle cx="1088.8" cy="467.5" r="7.8"/>
<circle cx="1139.0" cy="421.0" r="7.8"/>
<circle cx="1132.3" cy="432.9" r="7.8"/>
<circle cx="1129.0" cy="439.0" r="7.8"/>
<circle cx="1142.4" cy="445.2" r="7.8"/>
<circle cx="1129.0" cy="456.9" r="7.8"/>
<circle cx="1142.4" cy="457.4" r="7.8"/>
<circle cx="1129.0" cy="463.0" r="7.8"/>
<circle cx="1143.5" cy="464.1" r="7.8"/>
<circle cx="1126.8" cy="471.4" r="7.8"/>
<circle cx="1149.1" cy="473.0" r="7.8"/>
<circle cx="1136.8" cy="480.9" r="7.8"/>
<circle cx="1144.6" cy="479.2" r="7.8"/>
<circle cx="1161.3" cy="433.1" r="7.8"/>
<circle cx="1173.1" cy="433.8" r="7.8"/>
<circle cx="1163.0" cy="455.2" r="7.8"/>
<circle cx="1175.0" cy="453.2" r="7.8"/>
<circle cx="1115.0" cy="495.1" r="7.8"/>
<circle cx="1111.1" cy="499.3" r="7.8"/>
<circle cx="1112.8" cy="511.5" r="7.8"/>
<circle cx="1139.0" cy="503.2" r="7.8"/>
<circle cx="1146.8" cy="503.2" r="7.8"/>
<circle cx="1153.0" cy="499.3" r="7.8"/>
<circle cx="932.9" cy="965.1" r="7.8"/>
<circle cx="973.0" cy="969.0" r="7.8"/>
<circle cx="999.0" cy="979.1" r="7.8"/>
<circle cx="1024.9" cy="951.2" r="7.8"/>
<circle cx="1051.1" cy="971.1" r="7.8"/>
<circle cx="1055.0" cy="989.1" r="7.8"/>
<circle cx="969.1" cy="1023.2" r="7.8"/>
<circle cx="1014.8" cy="1009.2" r="7.8"/>
<circle cx="1024.9" cy="1011.1" r="7.8"/>
<circle cx="985.0" cy="1049.1" r="7.8"/>
<circle cx="999.0" cy="1051.0" r="7.8"/>
<circle cx="1058.9" cy="1029.1" r="7.8"/>
<circle cx="1070.9" cy="1051.0" r="7.8"/>
<circle cx="1079.0" cy="999.2" r="7.8"/>
<circle cx="1085.1" cy="1007.0" r="7.8"/>
<circle cx="1076.7" cy="1019.2" r="7.8"/>
<circle cx="1085.1" cy="1021.5" r="7.8"/>
<circle cx="1094.9" cy="989.1" r="7.8"/>
<circle cx="1099.0" cy="977.1" r="7.8"/>
<circle cx="1112.8" cy="965.5" r="7.8"/>
<circle cx="1123.0" cy="967.1" r="7.8"/>
<circle cx="1120.8" cy="996.9" r="7.8"/>
<circle cx="1123.0" cy="1009.2" r="7.8"/>
<circle cx="1124.7" cy="1027.1" r="7.8"/>
<circle cx="1130.8" cy="1027.1" r="7.8"/>
<circle cx="1124.7" cy="1037.1" r="7.8"/>
<circle cx="1136.4" cy="1037.1" r="7.8"/>
<circle cx="1140.9" cy="1047.1" r="7.8"/>
<circle cx="1147.0" cy="949.0" r="7.8"/>
<circle cx="1142.9" cy="959.2" r="7.8"/>
<circle cx="1158.7" cy="955.1" r="7.8"/>
<circle cx="1152.9" cy="998.9" r="7.8"/>
<circle cx="1150.9" cy="1009.2" r="7.8"/>
<circle cx="1165.1" cy="956.8" r="7.8"/>
<circle cx="1172.9" cy="953.2" r="7.8"/>
<circle cx="1167.3" cy="1009.2" r="7.8"/>
<circle cx="1165.1" cy="1041.0" r="7.8"/>
<circle cx="1175.1" cy="975.2" r="7.8"/>
<circle cx="1177.4" cy="985.8" r="7.8"/>
<circle cx="1172.9" cy="994.7" r="7.8"/>
<circle cx="1186.8" cy="987.5" r="7.8"/>
<circle cx="1190.7" cy="993.6" r="7.8"/>
<circle cx="1199.1" cy="983.0" r="7.8"/>
<circle cx="1177.4" cy="1009.2" r="7.8"/>
<circle cx="1175.1" cy="1019.2" r="7.8"/>
<circle cx="1184.0" cy="1025.4" r="7.8"/>
<circle cx="1190.7" cy="1020.9" r="7.8"/>
<circle cx="1200.8" cy="1027.1" r="7.8"/>
<circle cx="1208.6" cy="1023.2" r="7.8"/>
<circle cx="1172.9" cy="1041.0" r="7.8"/>
<circle cx="1179.6" cy="1041.6" r="7.8"/>
<circle cx="1190.7" cy="1041.0" r="7.8"/>
<circle cx="1180.7" cy="1051.0" r="7.8"/>
<circle cx="1204.7" cy="1044.9" r="7.8"/>
<circle cx="1220.9" cy="1048.8" r="7.8"/>
<circle cx="1230.9" cy="1051.0" r="7.8"/>
<circle cx="1199.1" cy="953.4" r="7.8"/>
<circle cx="1200.8" cy="962.4" r="7.8"/>
<circle cx="1213.0" cy="953.4" r="7.8"/>
<circle cx="1208.6" cy="971.3" r="7.8"/>
<circle cx="1220.9" cy="955.7" r="7.8"/>
<circle cx="1228.7" cy="955.1" r="7.8"/>
<circle cx="1237.6" cy="956.8" r="7.8"/>
<circle cx="1246.5" cy="955.1" r="7.8"/>
<circle cx="1246.5" cy="966.8" r="7.8"/>
<circle cx="1234.2" cy="971.3" r="7.8"/>
<circle cx="1220.9" cy="974.1" r="7.8"/>
<circle cx="1229.8" cy="978.0" r="7.8"/>
<circle cx="1218.6" cy="989.1" r="7.8"/>
<circle cx="1233.1" cy="989.1" r="7.8"/>
<circle cx="1234.2" cy="999.2" r="7.8"/>
<circle cx="1234.2" cy="1010.3" r="7.8"/>
<circle cx="1225.3" cy="1019.2" r="7.8"/>
<circle cx="1232.0" cy="1028.2" r="7.8"/>
<circle cx="1236.5" cy="1027.1" r="7.8"/>
<circle cx="1248.7" cy="1031.5" r="7.8"/>
<circle cx="1242.1" cy="1037.1" r="7.8"/>
<circle cx="1253.2" cy="1044.9" r="7.8"/>
<circle cx="1262.7" cy="1047.1" r="7.8"/>
<circle cx="1256.6" cy="1037.1" r="7.8"/>
<circle cx="1263.3" cy="949.0" r="7.8"/>
<circle cx="1270.5" cy="951.2" r="7.8"/>
<circle cx="1271.1" cy="967.9" r="7.8"/>
<circle cx="1264.9" cy="974.1" r="7.8"/>
<circle cx="1249.9" cy="984.7" r="7.8"/>
<circle cx="1258.8" cy="983.5" r="7.8"/>
<circle cx="1267.7" cy="982.4" r="7.8"/>
<circle cx="1276.6" cy="983.5" r="7.8"/>
<circle cx="1247.6" cy="992.5" r="7.8"/>
<circle cx="1256.6" cy="996.9" r="7.8"/>
<circle cx="1265.5" cy="992.5" r="7.8"/>
<circle cx="1264.4" cy="1003.6" r="7.8"/>
<circle cx="1257.7" cy="1014.8" r="7.8"/>
<circle cx="1263.3" cy="1012.6" r="7.8"/>
<circle cx="1265.5" cy="1028.2" r="7.8"/>
<circle cx="1271.1" cy="1025.9" r="7.8"/>
<circle cx="1278.9" cy="1025.4" r="7.8"/>
<circle cx="1280.5" cy="1037.1" r="7.8"/>
<circle cx="1280.5" cy="1005.3" r="7.8"/>
<circle cx="1286.7" cy="963.5" r="7.8"/>
<circle cx="1296.7" cy="965.7" r="7.8"/>
<circle cx="1296.7" cy="947.3" r="7.8"/>
<circle cx="1303.4" cy="953.4" r="7.8"/>
<circle cx="1310.7" cy="947.3" r="7.8"/>
<circle cx="1294.5" cy="976.9" r="7.8"/>
<circle cx="1290.0" cy="985.8" r="7.8"/>
<circle cx="1303.4" cy="985.8" r="7.8"/>
<circle cx="1284.4" cy="992.5" r="7.8"/>
<circle cx="1296.7" cy="996.9" r="7.8"/>
<circle cx="1296.7" cy="1003.1" r="7.8"/>
<circle cx="1309.0" cy="992.5" r="7.8"/>
<circle cx="1312.3" cy="999.2" r="7.8"/>
<circle cx="1316.8" cy="966.8" r="7.8"/>
<circle cx="1320.1" cy="979.1" r="7.8"/>
<circle cx="1330.2" cy="983.5" r="7.8"/>
<circle cx="1323.5" cy="991.4" r="7.8"/>
<circle cx="1330.2" cy="992.5" r="7.8"/>
<circle cx="1326.8" cy="955.1" r="7.8"/>
<circle cx="1335.2" cy="949.5" r="7.8"/>
<circle cx="1346.9" cy="979.1" r="7.8"/>
<circle cx="1358.6" cy="951.2" r="7.8"/>
<circle cx="1357.0" cy="959.0" r="7.8"/>
<circle cx="1358.6" cy="965.1" r="7.8"/>
<circle cx="1383.0" cy="959.0" r="7.8"/>
<circle cx="1370.9" cy="983.0" r="7.8"/>
<circle cx="1390.4" cy="981.3" r="7.8"/>
<circle cx="1361.4" cy="995.8" r="7.8"/>
<circle cx="1372.6" cy="996.9" r="7.8"/>
<circle cx="1384.8" cy="995.8" r="7.8"/>
<circle cx="1349.1" cy="1002.5" r="7.8"/>
<circle cx="1341.3" cy="1001.4" r="7.8"/>
<circle cx="1342.5" cy="1012.6" r="7.8"/>
<circle cx="1325.7" cy="1008.1" r="7.8"/>
<circle cx="1319.0" cy="1017.0" r="7.8"/>
<circle cx="1325.7" cy="1021.5" r="7.8"/>
<circle cx="1298.9" cy="1027.1" r="7.8"/>
<circle cx="1307.9" cy="1025.9" r="7.8"/>
<circle cx="1319.0" cy="1025.9" r="7.8"/>
<circle cx="1301.2" cy="1036.0" r="7.8"/>
<circle cx="1291.1" cy="1040.4" r="7.8"/>
<circle cx="1307.9" cy="1039.3" r="7.8"/>
<circle cx="1291.1" cy="1051.0" r="7.8"/>
<circle cx="1301.2" cy="1051.0" r="7.8"/>
<circle cx="1321.3" cy="1051.0" r="7.8"/>
<circle cx="1323.5" cy="1041.6" r="7.8"/>
<circle cx="1334.6" cy="1049.4" r="7.8"/>
<circle cx="1344.7" cy="1047.1" r="7.8"/>
<circle cx="1348.0" cy="1040.4" r="7.8"/>
<circle cx="1343.6" cy="1032.6" r="7.8"/>
<circle cx="1352.5" cy="1027.1" r="7.8"/>
<circle cx="1362.5" cy="1017.0" r="7.8"/>
<circle cx="1370.3" cy="1010.3" r="7.8"/>
<circle cx="1378.2" cy="1011.4" r="7.8"/>
<circle cx="1374.8" cy="1021.5" r="7.8"/>
<circle cx="1390.4" cy="1013.7" r="7.8"/>
<circle cx="1392.7" cy="1024.8" r="7.8"/>
<circle cx="1367.0" cy="1048.8" r="7.8"/>
<circle cx="1374.8" cy="1049.4" r="7.8"/>
<circle cx="1388.2" cy="1047.1" r="7.8"/>
<circle cx="1393.8" cy="1044.9" r="7.8"/>
<circle cx="1396.8" cy="981.3" r="7.8"/>
<circle cx="1392.9" cy="1012.0" r="7.8"/>
<circle cx="1397.9" cy="1023.7" r="7.8"/>
<circle cx="1396.8" cy="1029.3" r="7.8"/>
<circle cx="1414.6" cy="1009.2" r="7.8"/>
<circle cx="1414.6" cy="1013.7" r="7.8"/>
<circle cx="1412.9" cy="1027.1" r="7.8"/>
<circle cx="1404.6" cy="1047.1" r="7.8"/>
<circle cx="1409.0" cy="1047.1" r="7.8"/>
<circle cx="1429.1" cy="1039.3" r="7.8"/>
<circle cx="1420.8" cy="991.1" r="7.8"/>
<circle cx="1435.3" cy="985.2" r="7.8"/>
<circle cx="1445.3" cy="983.0" r="7.8"/>
<circle cx="1439.2" cy="967.4" r="7.8"/>
<circle cx="1452.6" cy="961.2" r="7.8"/>
<circle cx="1463.2" cy="952.9" r="7.8"/>
<circle cx="1467.1" cy="961.2" r="7.8"/>
<circle cx="1462.6" cy="972.9" r="7.8"/>
<circle cx="1473.7" cy="975.7" r="7.8"/>
<circle cx="1474.9" cy="979.1" r="7.8"/>
<circle cx="1447.0" cy="999.2" r="7.8"/>
<circle cx="1455.9" cy="995.3" r="7.8"/>
<circle cx="1459.2" cy="999.2" r="7.8"/>
<circle cx="1436.9" cy="1013.1" r="7.8"/>
<circle cx="1432.5" cy="1021.5" r="7.8"/>
<circle cx="1444.7" cy="1027.1" r="7.8"/>
<circle cx="1457.0" cy="1035.4" r="7.8"/>
<circle cx="1463.2" cy="1015.3" r="7.8"/>
<circle cx="1497.2" cy="955.1" r="7.8"/>
<circle cx="1490.5" cy="971.3" r="7.8"/>
<circle cx="1499.4" cy="972.9" r="7.8"/>
<circle cx="1490.5" cy="988.0" r="7.8"/>
<circle cx="1501.1" cy="985.8" r="7.8"/>
<circle cx="1478.8" cy="998.0" r="7.8"/>
<circle cx="1487.1" cy="994.7" r="7.8"/>
<circle cx="1498.8" cy="1007.0" r="7.8"/>
<circle cx="1488.3" cy="1015.3" r="7.8"/>
<circle cx="1498.3" cy="1018.1" r="7.8"/>
<circle cx="1482.7" cy="1023.2" r="7.8"/>
<circle cx="1491.0" cy="1035.4" r="7.8"/>
<circle cx="1501.6" cy="1029.3" r="7.8"/>
<circle cx="1506.7" cy="1043.2" r="7.8"/>
<circle cx="1509.4" cy="1036.0" r="7.8"/>
<circle cx="1516.7" cy="1011.4" r="7.8"/>
<circle cx="1526.7" cy="1017.0" r="7.8"/>
<circle cx="1521.2" cy="1033.2" r="7.8"/>
<circle cx="1518.9" cy="1051.0" r="7.8"/>
<circle cx="1529.5" cy="1041.6" r="7.8"/>
<circle cx="1535.1" cy="1051.0" r="7.8"/>
<circle cx="1518.9" cy="1040.4" r="7.8"/>
<circle cx="1514.5" cy="957.3" r="7.8"/>
<circle cx="1520.6" cy="952.9" r="7.8"/>
<circle cx="1530.6" cy="959.0" r="7.8"/>
<circle cx="1539.0" cy="946.7" r="7.8"/>
<circle cx="1535.1" cy="954.5" r="7.8"/>
<circle cx="1535.1" cy="966.8" r="7.8"/>
<circle cx="1526.2" cy="974.6" r="7.8"/>
<circle cx="1518.4" cy="982.4" r="7.8"/>
<circle cx="1518.9" cy="991.4" r="7.8"/>
<circle cx="1530.6" cy="982.4" r="7.8"/>
<circle cx="1539.0" cy="978.0" r="7.8"/>
<circle cx="1539.0" cy="989.1" r="7.8"/>
<circle cx="1548.5" cy="981.3" r="7.8"/>
<circle cx="1556.3" cy="979.1" r="7.8"/>
<circle cx="1550.7" cy="955.1" r="7.8"/>
<circle cx="1557.4" cy="950.6" r="7.8"/>
<circle cx="1576.9" cy="947.3" r="7.8"/>
<circle cx="1568.6" cy="966.8" r="7.8"/>
<circle cx="1578.6" cy="965.7" r="7.8"/>
<circle cx="1567.5" cy="981.3" r="7.8"/>
<circle cx="1569.7" cy="989.1" r="7.8"/>
<circle cx="1566.3" cy="999.2" r="7.8"/>
<circle cx="1556.9" cy="1007.0" r="7.8"/>
<circle cx="1568.6" cy="1008.1" r="7.8"/>
<circle cx="1550.7" cy="1021.5" r="7.8"/>
<circle cx="1558.5" cy="1031.5" r="7.8"/>
<circle cx="1548.5" cy="1044.9" r="7.8"/>
<circle cx="1563.0" cy="1045.5" r="7.8"/>
<circle cx="1580.3" cy="1051.0" r="7.8"/>
<circle cx="1580.8" cy="1024.8" r="7.8"/>
<circle cx="1584.7" cy="976.9" r="7.8"/>
<circle cx="1593.1" cy="966.8" r="7.8"/>
<circle cx="1598.7" cy="946.7" r="7.8"/>
<circle cx="1599.8" cy="955.7" r="7.8"/>
<circle cx="1615.4" cy="959.0" r="7.8"/>
<circle cx="1611.0" cy="976.9" r="7.8"/>
<circle cx="1606.5" cy="983.5" r="7.8"/>
<circle cx="1608.7" cy="989.1" r="7.8"/>
<circle cx="1596.5" cy="1003.6" r="7.8"/>
<circle cx="1594.8" cy="1008.1" r="7.8"/>
<circle cx="1594.8" cy="1019.2" r="7.8"/>
<circle cx="1609.3" cy="1023.2" r="7.8"/>
<circle cx="1606.5" cy="1035.4" r="7.8"/>
<circle cx="1615.4" cy="1039.3" r="7.8"/>
<circle cx="1600.9" cy="1049.4" r="7.8"/>
<circle cx="1609.8" cy="1047.1" r="7.8"/>
<circle cx="1617.1" cy="1005.9" r="7.8"/>
<circle cx="1624.9" cy="1051.0" r="7.8"/>
<circle cx="1629.0" cy="987.1" r="7.8"/>
<circle cx="1629.0" cy="1002.5" r="7.8"/>
<circle cx="1643.0" cy="955.1" r="7.8"/>
<circle cx="1645.0" cy="979.1" r="7.8"/>
<circle cx="1658.9" cy="965.1" r="7.8"/>
<circle cx="1651.3" cy="996.9" r="7.8"/>
<circle cx="1649.7" cy="1001.4" r="7.8"/>
<circle cx="1656.9" cy="1007.0" r="7.8"/>
<circle cx="1650.8" cy="1011.4" r="7.8"/>
<circle cx="1653.0" cy="1021.5" r="7.8"/>
<circle cx="1636.8" cy="1028.7" r="7.8"/>
<circle cx="1647.4" cy="1030.4" r="7.8"/>
<circle cx="1639.1" cy="1039.3" r="7.8"/>
<circle cx="1643.0" cy="1047.1" r="7.8"/>
<circle cx="1660.8" cy="1037.1" r="7.8"/>
<circle cx="1670.9" cy="1041.0" r="7.8"/>
<circle cx="1670.9" cy="995.0" r="7.8"/>
<circle cx="1687.0" cy="969.0" r="7.8"/>
<circle cx="1687.0" cy="981.3" r="7.8"/>
<circle cx="1687.0" cy="995.3" r="7.8"/>
<circle cx="1687.0" cy="1013.1" r="7.8"/>
<circle cx="1697.1" cy="1017.0" r="7.8"/>
<circle cx="1699.0" cy="1039.1" r="7.8"/>
<circle cx="1687.0" cy="1047.1" r="7.8"/>
<circle cx="1703.0" cy="949.0" r="7.8"/>
<circle cx="1713.0" cy="957.3" r="7.8"/>
<circle cx="1743.0" cy="947.3" r="7.8"/>
<circle cx="1719.1" cy="975.2" r="7.8"/>
<circle cx="1732.8" cy="972.9" r="7.8"/>
<circle cx="1735.0" cy="975.2" r="7.8"/>
<circle cx="1748.9" cy="1023.2" r="7.8"/>
<circle cx="1723.1" cy="1049.1" r="7.8"/>
<circle cx="1819.0" cy="979.1" r="7.8"/>
<circle cx="1822.9" cy="1051.0" r="7.8"/>
<circle cx="1017.4" cy="470.8" r="7.8"/>
<circle cx="1001.8" cy="487.6" r="7.8"/>
<circle cx="1020.8" cy="485.3" r="7.8"/>
<circle cx="1553.0" cy="1014.8" r="7.8"/>
<circle cx="1615.6" cy="985.2" r="7.8"/>
<circle cx="1012.0" cy="439.1" r="7.8"/>
<circle cx="1017.7" cy="448.1" r="7.8"/>
<circle cx="990.8" cy="481.5" r="7.8"/>
<circle cx="930.5" cy="468.5" r="7.8"/>
<circle cx="968.0" cy="492.9" r="7.8"/>
<circle cx="987.5" cy="497.8" r="7.8"/>
<circle cx="998.9" cy="509.3" r="7.8"/>
<circle cx="987.5" cy="512.5" r="7.8"/>
<circle cx="959.8" cy="453.8" r="7.8"/>
<circle cx="972.8" cy="448.9" r="7.8"/>
<circle cx="951.7" cy="465.2" r="7.8"/>
<circle cx="1276.2" cy="993.5" r="7.8"/>
<circle cx="1304.7" cy="974.7" r="7.8"/>
<circle cx="1333.3" cy="993.5" r="7.8"/>
<circle cx="1318.6" cy="1000.0" r="7.8"/>
<circle cx="1284.4" cy="978.8" r="7.8"/>
<circle cx="1258.3" cy="978.8" r="7.8"/>
<circle cx="1326.8" cy="978.8" r="7.8"/>
</g>
<text x="253.20" y="479.10" font-size="19.40" fill="#000" text-anchor="middle">1</text>
<rect x="220.80" y="593.80" width="44.00" height="20.70" fill="#f0f1f1" />
<text x="224.00" y="613.10" font-size="18.20" textLength="36.8" lengthAdjust="spacingAndGlyphs" fill="#000" >0.75</text>
<rect x="228.30" y="724.50" width="31.50" height="19.20" fill="#f0f1f1" />
<text x="231.80" y="742.80" font-size="17.60" textLength="24.2" lengthAdjust="spacingAndGlyphs" fill="#000" >0.5</text>
<rect x="220.80" y="855.80" width="39.00" height="17.90" fill="#f0f1f1" />
<text x="223.40" y="872.70" font-size="16.60" textLength="33.2" lengthAdjust="spacingAndGlyphs" fill="#000" >0.25</text>
<rect x="246.10" y="987.00" width="14.80" height="21.00" fill="#f1f2f2" />
<text x="253.30" y="1006.80" font-size="19.60" fill="#000" text-anchor="middle">0</text>
<text x="325.50" y="1118.90" font-size="19.70" fill="#000" text-anchor="middle">0</text>
<rect x="467.00" y="1103.00" width="11.80" height="17.50" fill="#f1f1f1" />
<text x="472.00" y="1119.00" font-size="15.30" fill="#000" text-anchor="middle">1</text>
<rect x="614.60" y="1104.00" width="12.80" height="16.50" fill="#f1f1f1" />
<text x="621.20" y="1118.70" font-size="15.30" fill="#000" text-anchor="middle">2</text>
<rect x="759.00" y="1100.50" width="14.80" height="21.10" fill="#f1f1f1" />
<rect x="906.10" y="1098.00" width="21.70" height="24.60" fill="#f1f1f1" />
<text x="916.40" y="1121.70" font-size="22.60" fill="#000" text-anchor="middle">4</text>
<rect x="1055.50" y="1099.50" width="18.40" height="22.10" fill="#f1f1f1" />
<text x="1063.40" y="1121.20" font-size="21.00" fill="#000" text-anchor="middle" font-style="italic">5</text>
<rect x="1201.10" y="1102.20" width="18.70" height="19.60" fill="#f1f1f1" />
<text x="1210.60" y="1121.20" font-size="20.50" fill="#000" text-anchor="middle" font-style="italic">6</text>
<rect x="1349.50" y="1099.80" width="21.20" height="19.90" fill="#f1f1f1" />
<text x="1360.00" y="1119.40" font-size="19.80" fill="#000" text-anchor="middle">7</text>
<text x="1508.70" y="1119.40" font-size="20.00" fill="#000" text-anchor="middle">8</text>
<rect x="1648.90" y="1101.40" width="13.70" height="18.30" fill="#f1f1f1" />
<text x="1655.80" y="1119.40" font-size="18.00" fill="#000" text-anchor="middle" font-style="italic">9</text>
<rect x="1792.00" y="1101.70" width="26.50" height="18.00" fill="#f1f1f1" />
<text x="1805.00" y="1119.40" font-size="17.00" fill="#000" text-anchor="middle" font-style="italic">10</text>
<text transform="translate(773,1118.3) rotate(-90)" font-size="10.5" font-style="italic">w-</text>
<rect x="82" y="678.1" width="61.8" height="157.9" rx="3.2" fill="#fff" stroke="#7c7b79" stroke-width="2"/>
<polygon points="102.1,723.2 128.9,723.2 130.8,786.5 102.8,791.4" fill="#f1f1f1"/>
<text transform="translate(129.6,772.4) rotate(-90)" font-size="26" textLength="32.2" lengthAdjust="spacingAndGlyphs">stil</text>
<rect x="877.1" y="1158.2" width="226.7" height="61.9" rx="3.2" fill="#fff" stroke="#7c7b79" stroke-width="2"/>
<rect x="917.20" y="1175.20" width="147.70" height="26.70" fill="#f1f1f1" />
<text x="934.80" y="1195.90" font-size="20.20" textLength="94.2" lengthAdjust="spacingAndGlyphs" fill="#000" >Förutsagd</text>
<text x="1034.60" y="1195.90" font-size="20.20" textLength="12.0" lengthAdjust="spacingAndGlyphs" fill="#000" >Y</text>
<line x1="1802.9" y1="402.4" x2="1831" y2="402.4" stroke="#666" stroke-width="6.1" stroke-linecap="round"/>
<line x1="1802.9" y1="412.45" x2="1831" y2="412.45" stroke="#666" stroke-width="6.1" stroke-linecap="round"/>
<line x1="1802.9" y1="422.4" x2="1831" y2="422.4" stroke="#666" stroke-width="6.1" stroke-linecap="round"/>
<rect x="1940.10" y="333.70" width="244.80" height="31.40" fill="#f0f1f1" />
<text x="1976.00" y="357.90" font-size="23.60" textLength="47.8" lengthAdjust="spacingAndGlyphs" fill="#000" >Vald</text>
<text x="2031.20" y="357.90" font-size="23.60" textLength="116.2" lengthAdjust="spacingAndGlyphs" fill="#000" >datapunkt</text>
<rect x="1945.1" y="378.2" width="298" height="61.8" rx="3" fill="#fff" stroke="#333" stroke-width="2"/>
<rect x="1958.00" y="394.00" width="131.00" height="30.60" fill="#f0f1f1" />
<text x="1958.60" y="423.90" font-size="28.60" textLength="72.2" lengthAdjust="spacingAndGlyphs" fill="#000" >Index</text>
<text x="2039.00" y="423.90" font-size="28.60" textLength="47.6" lengthAdjust="spacingAndGlyphs" fill="#000" >194</text>
<rect x="2193.00" y="395.00" width="33.00" height="23.80" fill="#f0f1f1" />
<text x="2202.10" y="417.70" font-size="20.80" textLength="13.8" lengthAdjust="spacingAndGlyphs" fill="#000" >V</text>
<rect x="1937.70" y="487.00" width="274.30" height="33.50" fill="#f1f1f1" />
<text x="1938.50" y="514.00" font-size="24.60" textLength="93.5" lengthAdjust="spacingAndGlyphs" fill="#000" >Aktuellt</text>
<text x="2038.00" y="514.00" font-size="24.60" textLength="102.5" lengthAdjust="spacingAndGlyphs" fill="#000" >intervall:</text>
<text x="2148.00" y="514.00" font-size="24.60" textLength="62.0" lengthAdjust="spacingAndGlyphs" fill="#000" >[5,10]</text>
<rect x="1944.1" y="541.1" width="426.7" height="64.2" rx="3" fill="#005ad8"/>
<rect x="2065.80" y="545.10" width="185.60" height="57.80" fill="#1063dc" />
<text x="2065.90" y="567.00" font-size="18.50" textLength="50.0" lengthAdjust="spacingAndGlyphs" fill="#fff" >Skapa</text>
<text x="2121.40" y="567.00" font-size="18.50" textLength="128.5" lengthAdjust="spacingAndGlyphs" fill="#fff" >vad-händer-om</text>
<text x="2066.00" y="601.10" font-size="25.60" textLength="157.5" lengthAdjust="spacingAndGlyphs" fill="#fff" stroke="#fff" stroke-width="0.3">kontrafaktisk</text>
</svg>
<div id="frame"></div>
</body></html>
